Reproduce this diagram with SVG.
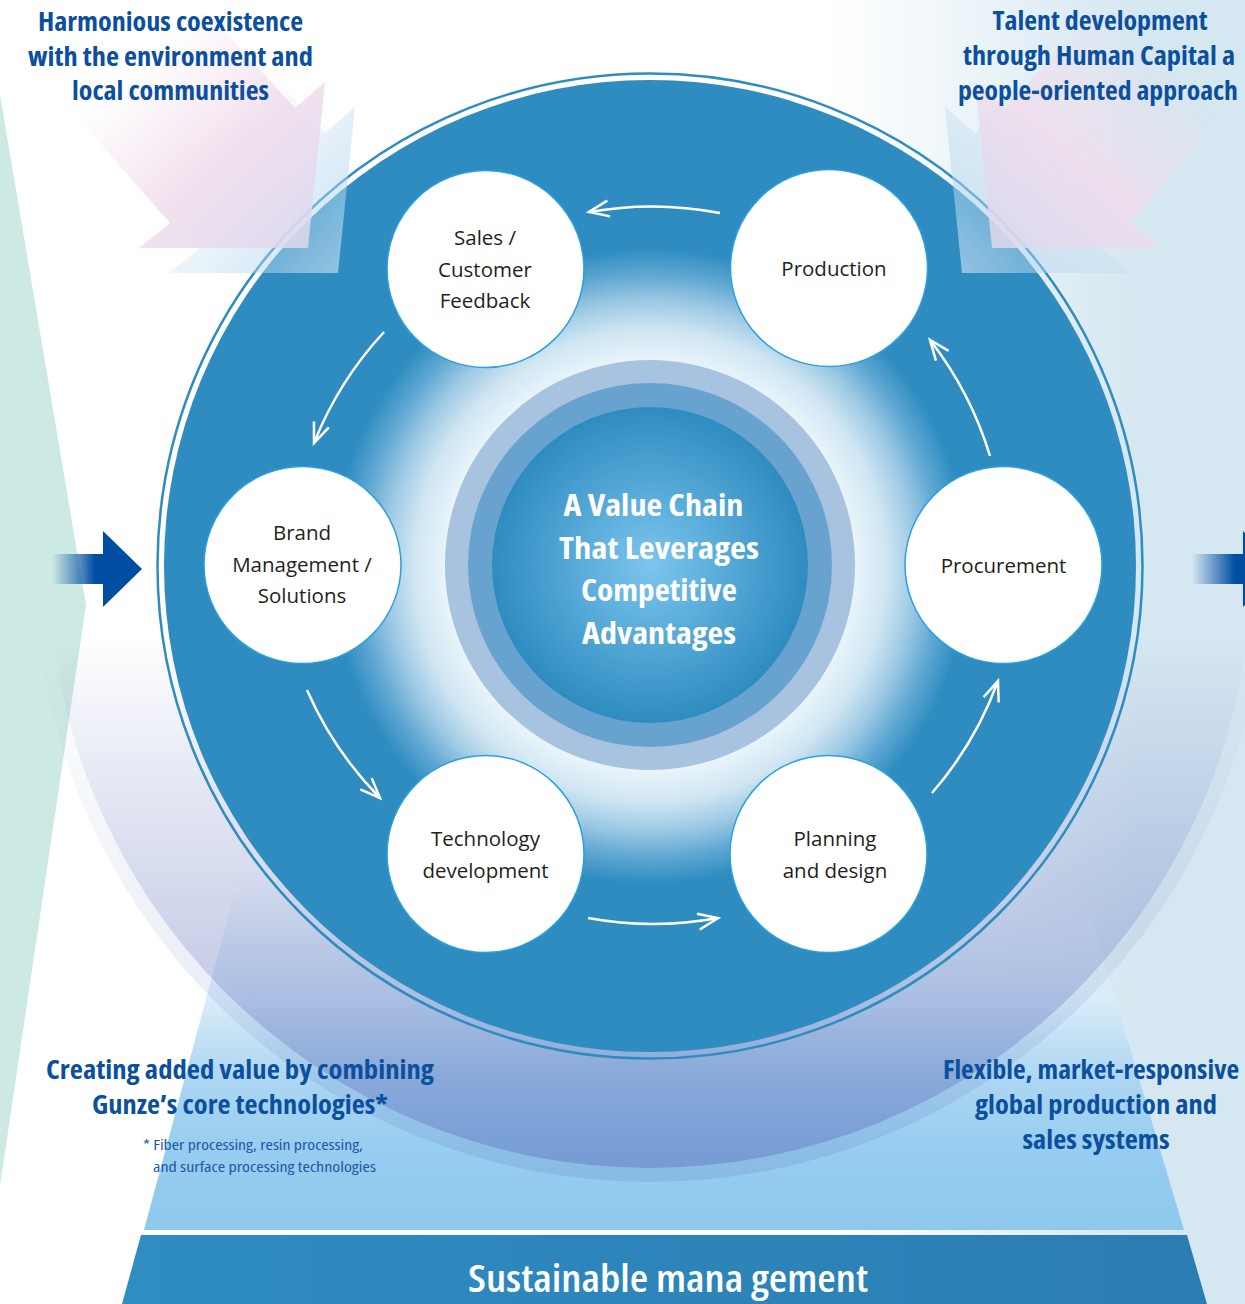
<svg xmlns="http://www.w3.org/2000/svg" width="1245" height="1304" viewBox="0 0 1245 1304">
<defs>
<style>
.head{font-family:"Open Sans","Noto Sans",sans-serif;font-weight:700;font-size:26px;font-stretch:75%;fill:#0b4f9e;text-anchor:middle}
.foot{font-family:"Open Sans","Noto Sans",sans-serif;font-weight:400;font-size:14.5px;font-stretch:75%;fill:#1c58a4}
.ctr{font-family:"Open Sans","Noto Sans",sans-serif;font-weight:700;font-size:30px;font-stretch:75%;fill:#ffffff;text-anchor:middle}
.band{font-family:"Open Sans","Noto Sans",sans-serif;font-weight:600;font-size:37px;font-stretch:75%;fill:#ffffff;text-anchor:middle}
.node circle{fill:#ffffff;stroke:#2aa0dc;stroke-width:1.5}
.node text{font-family:"Open Sans","Noto Sans",sans-serif;font-size:20.5px;fill:#231f20;text-anchor:middle}
.conn path{fill:none;stroke:#ffffff;stroke-width:2.5;marker-end:url(#ah)}
</style>
<marker id="ah" markerUnits="userSpaceOnUse" markerWidth="28" markerHeight="24" viewBox="-24 -12 28 24" refX="0" refY="0" orient="auto" overflow="visible">
<path d="M-20,-8 L0,0 L-20,8" fill="none" stroke="#ffffff" stroke-width="2.5"/>
</marker>
<linearGradient id="rbg" gradientUnits="userSpaceOnUse" x1="830" y1="0" x2="1140" y2="0">
<stop offset="0" stop-color="#d5e7f1" stop-opacity="0"/>
<stop offset="1" stop-color="#d5e7f1" stop-opacity="1"/>
</linearGradient>
<linearGradient id="trap" gradientUnits="userSpaceOnUse" x1="0" y1="880" x2="0" y2="1230">
<stop offset="0" stop-color="#e2f0fa" stop-opacity="0"/>
<stop offset="0.2" stop-color="#e0eff9" stop-opacity="0.8"/>
<stop offset="0.343" stop-color="#d8ecf9"/>
<stop offset="0.571" stop-color="#acd6f2"/>
<stop offset="0.771" stop-color="#97cdf0"/>
<stop offset="1" stop-color="#8ec8ed"/>
</linearGradient>
<linearGradient id="bandg" gradientUnits="userSpaceOnUse" x1="120" y1="0" x2="1210" y2="0">
<stop offset="0" stop-color="#2f8dc1"/>
<stop offset="1" stop-color="#2a7db3"/>
</linearGradient>
<linearGradient id="haloO" gradientUnits="userSpaceOnUse" x1="0" y1="635" x2="0" y2="1182">
<stop offset="0" stop-color="#5a6eb9" stop-opacity="0"/>
<stop offset="1" stop-color="#5a6eb9" stop-opacity="0.18"/>
</linearGradient>
<linearGradient id="haloI" gradientUnits="userSpaceOnUse" x1="0" y1="635" x2="0" y2="1182">
<stop offset="0" stop-color="#5a6eb9" stop-opacity="0"/>
<stop offset="1" stop-color="#5a6eb9" stop-opacity="0.42"/>
</linearGradient>
<radialGradient id="disk" gradientUnits="userSpaceOnUse" cx="650" cy="566" r="486">
<stop offset="0" stop-color="#eef6fb"/>
<stop offset="0.42" stop-color="#eaf4fa"/>
<stop offset="0.485" stop-color="#d0e6f3"/>
<stop offset="0.545" stop-color="#9dc9e4"/>
<stop offset="0.6" stop-color="#5ea7d2"/>
<stop offset="0.655" stop-color="#2e8cc0"/>
<stop offset="1" stop-color="#2e8cc0"/>
</radialGradient>
<radialGradient id="core" cx="0.5" cy="0.5" r="0.5">
<stop offset="0" stop-color="#7cc5ee"/>
<stop offset="1" stop-color="#2e8cc0"/>
</radialGradient>
<linearGradient id="shaft" gradientUnits="userSpaceOnUse" x1="52" y1="0" x2="95" y2="0">
<stop offset="0" stop-color="#004ea2" stop-opacity="0"/>
<stop offset="1" stop-color="#004ea2" stop-opacity="1"/>
</linearGradient>
<linearGradient id="pink" gradientUnits="userSpaceOnUse" x1="140" y1="60" x2="310" y2="250">
<stop offset="0" stop-color="#f0dcec" stop-opacity="0"/>
<stop offset="0.5" stop-color="#f0dcec" stop-opacity="1"/>
<stop offset="1" stop-color="#dcd8ee" stop-opacity="1"/>
</linearGradient>
<linearGradient id="shad" gradientUnits="userSpaceOnUse" x1="200" y1="150" x2="340" y2="275">
<stop offset="0" stop-color="#b5d6ef" stop-opacity="0"/>
<stop offset="1" stop-color="#b5d6ef" stop-opacity="0.75"/>
</linearGradient>
<g id="pinkArrow">
<polygon points="235,35 325,133 355,107 338,273 169,273 200,248 108,143" fill="url(#shad)"/>
<polygon points="205,10 295,108 325,82 308,248 139,248 170,223 78,118" fill="url(#pink)" opacity="0.85"/>
</g>
<g id="blueArrow">
<rect x="52" y="554" width="53" height="30" fill="url(#shaft)"/>
<polygon points="103,531 142,569 103,607" fill="#004ea2"/>
</g>
</defs>

<g id="background">
<rect x="0" y="0" width="1245" height="1304" fill="#ffffff"/>
<rect x="800" y="0" width="445" height="1304" fill="url(#rbg)"/>
<polygon points="0,95 86,605 0,1186" fill="#cde9e3"/>
<polygon points="238,880 1080,880 1184,1230 144,1230" fill="url(#trap)"/>
<polygon points="141,1235 1187,1235 1207,1304 122,1304" fill="url(#bandg)"/>
<circle cx="650" cy="567" r="615" fill="url(#haloO)"/>
<circle cx="650" cy="567" r="601" fill="url(#haloI)"/>
</g>

<g id="main-circle">
<circle cx="650" cy="566" r="492.5" fill="none" stroke="#2e8cc0" stroke-width="2.5"/>
<circle cx="650" cy="566" r="486" fill="url(#disk)"/>
</g>

<g id="core-circle">
<circle cx="650" cy="565" r="205" fill="#a7c3e0"/>
<circle cx="650" cy="565" r="182" fill="#68a2cf"/>
<circle cx="650" cy="565" r="158" fill="url(#core)"/>
<text class="ctr" x="653.5" y="516" textLength="180" lengthAdjust="spacingAndGlyphs">A Value Chain</text>
<text class="ctr" x="659" y="559" textLength="200" lengthAdjust="spacingAndGlyphs">That Leverages</text>
<text class="ctr" x="659" y="601" textLength="156" lengthAdjust="spacingAndGlyphs">Competitive</text>
<text class="ctr" x="659" y="644" textLength="154" lengthAdjust="spacingAndGlyphs">Advantages</text>
</g>

<g id="pink-arrows">
<use href="#pinkArrow"/>
<use href="#pinkArrow" transform="matrix(-1 0 0 1 1300 0)"/>
</g>

<g id="connectors" class="conn">
<path d="M720,213 A358,358 0 0,0 589,212"/>
<path d="M384,332 A358,358 0 0,0 314,443"/>
<path d="M307,690 A358,358 0 0,0 380,798"/>
<path d="M588,918 A358,358 0 0,0 718,918"/>
<path d="M932,793 A358,358 0 0,0 998,681"/>
<path d="M990,456 A358,358 0 0,0 930,340"/>
</g>

<g id="node-sales" class="node">
<circle cx="485.5" cy="269" r="98.5"/>
<text x="485" y="245">Sales /</text>
<text x="485" y="277">Customer</text>
<text x="485" y="308">Feedback</text>
</g>
<g id="node-production" class="node">
<circle cx="829" cy="268" r="98.5"/>
<text x="834" y="276">Production</text>
</g>
<g id="node-brand" class="node">
<circle cx="302.5" cy="565" r="98.5"/>
<text x="302" y="540">Brand</text>
<text x="302" y="572">Management /</text>
<text x="302" y="603">Solutions</text>
</g>
<g id="node-procurement" class="node">
<circle cx="1003.5" cy="565" r="98.5"/>
<text x="1003.5" y="573">Procurement</text>
</g>
<g id="node-technology" class="node">
<circle cx="485.5" cy="854" r="98.5"/>
<text x="485.5" y="846">Technology</text>
<text x="485.5" y="878">development</text>
</g>
<g id="node-planning" class="node">
<circle cx="828.5" cy="854" r="98.5"/>
<text x="835" y="846">Planning</text>
<text x="835" y="878">and design</text>
</g>

<g id="side-arrows">
<use href="#blueArrow"/>
<use href="#blueArrow" transform="translate(1140,0)"/>
</g>

<g id="labels">
<text class="head" x="170.5" y="31" textLength="265" lengthAdjust="spacingAndGlyphs">Harmonious coexistence</text>
<text class="head" x="170.5" y="65.5" textLength="285" lengthAdjust="spacingAndGlyphs">with the environment and</text>
<text class="head" x="170.5" y="100" textLength="197" lengthAdjust="spacingAndGlyphs">local communities</text>
<text class="head" x="1100" y="30" textLength="215" lengthAdjust="spacingAndGlyphs">Talent development</text>
<text class="head" x="1099" y="65" textLength="272" lengthAdjust="spacingAndGlyphs">through Human Capital a</text>
<text class="head" x="1098" y="99.5" textLength="280" lengthAdjust="spacingAndGlyphs">people-oriented approach</text>
<text class="head" x="240" y="1079" textLength="388" lengthAdjust="spacingAndGlyphs">Creating added value by combining</text>
<text class="head" x="240" y="1114" textLength="296" lengthAdjust="spacingAndGlyphs">Gunze’s core technologies*</text>
<text class="foot" x="143" y="1150" textLength="220" lengthAdjust="spacingAndGlyphs">* Fiber processing, resin processing,</text>
<text class="foot" x="153" y="1172" textLength="223" lengthAdjust="spacingAndGlyphs">and surface processing technologies</text>
<text class="head" x="1091" y="1079" textLength="296" lengthAdjust="spacingAndGlyphs">Flexible, market-responsive</text>
<text class="head" x="1096" y="1114" textLength="242" lengthAdjust="spacingAndGlyphs">global production and</text>
<text class="head" x="1096" y="1149" textLength="147" lengthAdjust="spacingAndGlyphs">sales systems</text>
<text class="band" x="668" y="1292" textLength="400" lengthAdjust="spacingAndGlyphs">Sustainable mana gement</text>
</g>
</svg>
